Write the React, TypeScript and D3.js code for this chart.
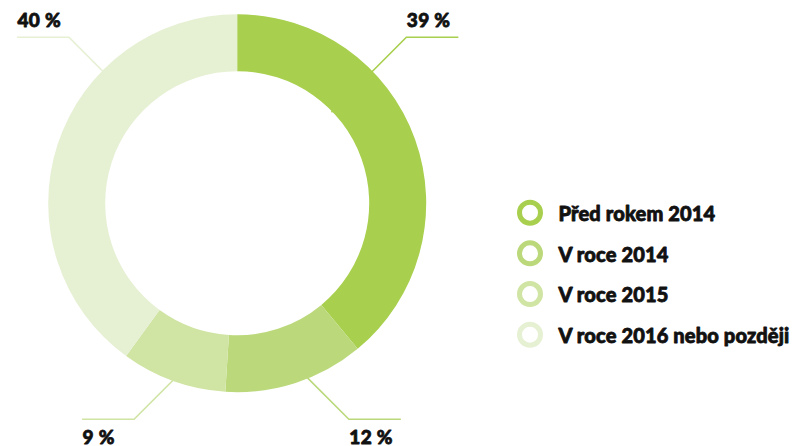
import React from "react";
import * as d3 from "d3";

const categories = ["Před rokem 2014", "V roce 2014", "V roce 2015", "V roce 2016 nebo později"];
const values = [39, 12, 9, 40];
const valueLabels = ["39 %", "12 %", "9 %", "40 %"];
const colors = ["#a8cf4d", "#bbd97b", "#d0e4a3", "#e6f0d3"];

const W = 794;
const H = 446;
const cx = 237.2;
const cy = 203.2;
const rOut = 189;
const rIn = 132;

// layout of leader lines (angle in degrees where the line leaves the ring)
const leaderAngles = [45.7, 158, 200, 314.5];
const leaderBack = [58, 20, 20, 20];
const topY = 37.3;
const bottomY = 419.3;
const hLen = 52;

export default function App() {
  const pie = d3.pie<number>().value((d) => d).sort(null);
  const arcs = pie(values);
  const arcGen = d3.arc<d3.PieArcDatum<number>>().innerRadius(rIn).outerRadius(rOut);
  const font = "Lato, 'Noto Sans', sans-serif";

  const leaders = arcs.map((a, i) => {
    const ang = (leaderAngles[i] * Math.PI) / 180;
    const px = cx + rOut * Math.sin(ang);
    const py = cy - rOut * Math.cos(ang);
    const right = Math.sin(ang) > 0;
    const down = Math.cos(ang) < 0;
    const ly = down ? bottomY : topY;
    const dy = Math.abs(ly - py);
    const kx = px + (right ? dy : -dy);
    const ex = kx + (right ? hLen : -hLen);
    const b = leaderBack[i] / Math.SQRT2;
    const sx = px - (right ? b : -b);
    const sy = py + (down ? -b : b);
    const path = d3.path();
    path.moveTo(sx, sy);
    path.lineTo(px, py);
    path.lineTo(kx, ly);
    path.lineTo(ex, ly);
    const tx = Math.min(kx, ex);
    const ty = down ? ly + 24.2 : ly - 10.6;
    return { path: path.toString(), tx, ty, i };
  });

  const legendY = d3.scaleLinear().domain([0, 3]).range([212.7, 334.7]);

  return (
    <svg
      width={W}
      height={H}
      style={{ position: "absolute", left: 0, top: 0, background: "#fff" }}
    >
      <g>
        {leaders.map((l) => (
          <path key={"l" + l.i} d={l.path} fill="none" stroke={colors[l.i]} strokeWidth={1.6} />
        ))}
      </g>
      <g transform={`translate(${cx},${cy})`}>
        {arcs.map((a, i) => (
          <path key={i} d={arcGen(a) || ""} fill={colors[i]} />
        ))}
      </g>
      <g>
        {leaders.map((l) => (
          <text
            key={"t" + l.i}
            x={l.tx + 0.5}
            y={l.ty}
            fontFamily={font}
            fontWeight={900}
            fontSize={19}
            letterSpacing={0.3}
            fill="#111"
            stroke="#111"
            strokeWidth={0.8}
            strokeLinejoin="round"
          >
            {valueLabels[l.i]}
          </text>
        ))}
      </g>
      <g>
        {categories.map((c, i) => (
          <g key={c}>
            <circle cx={530} cy={legendY(i)} r={10.5} fill="none" stroke={colors[i]} strokeWidth={5} />
            <text
              x={558.5}
              y={legendY(i) + 8.3}
              fontFamily={font}
              fontWeight={900}
              fontSize={20}
              letterSpacing={0.15}
              fill="#111"
              stroke="#111"
              strokeWidth={0.8}
              strokeLinejoin="round"
            >
              {c}
            </text>
          </g>
        ))}
      </g>
    </svg>
  );
}
